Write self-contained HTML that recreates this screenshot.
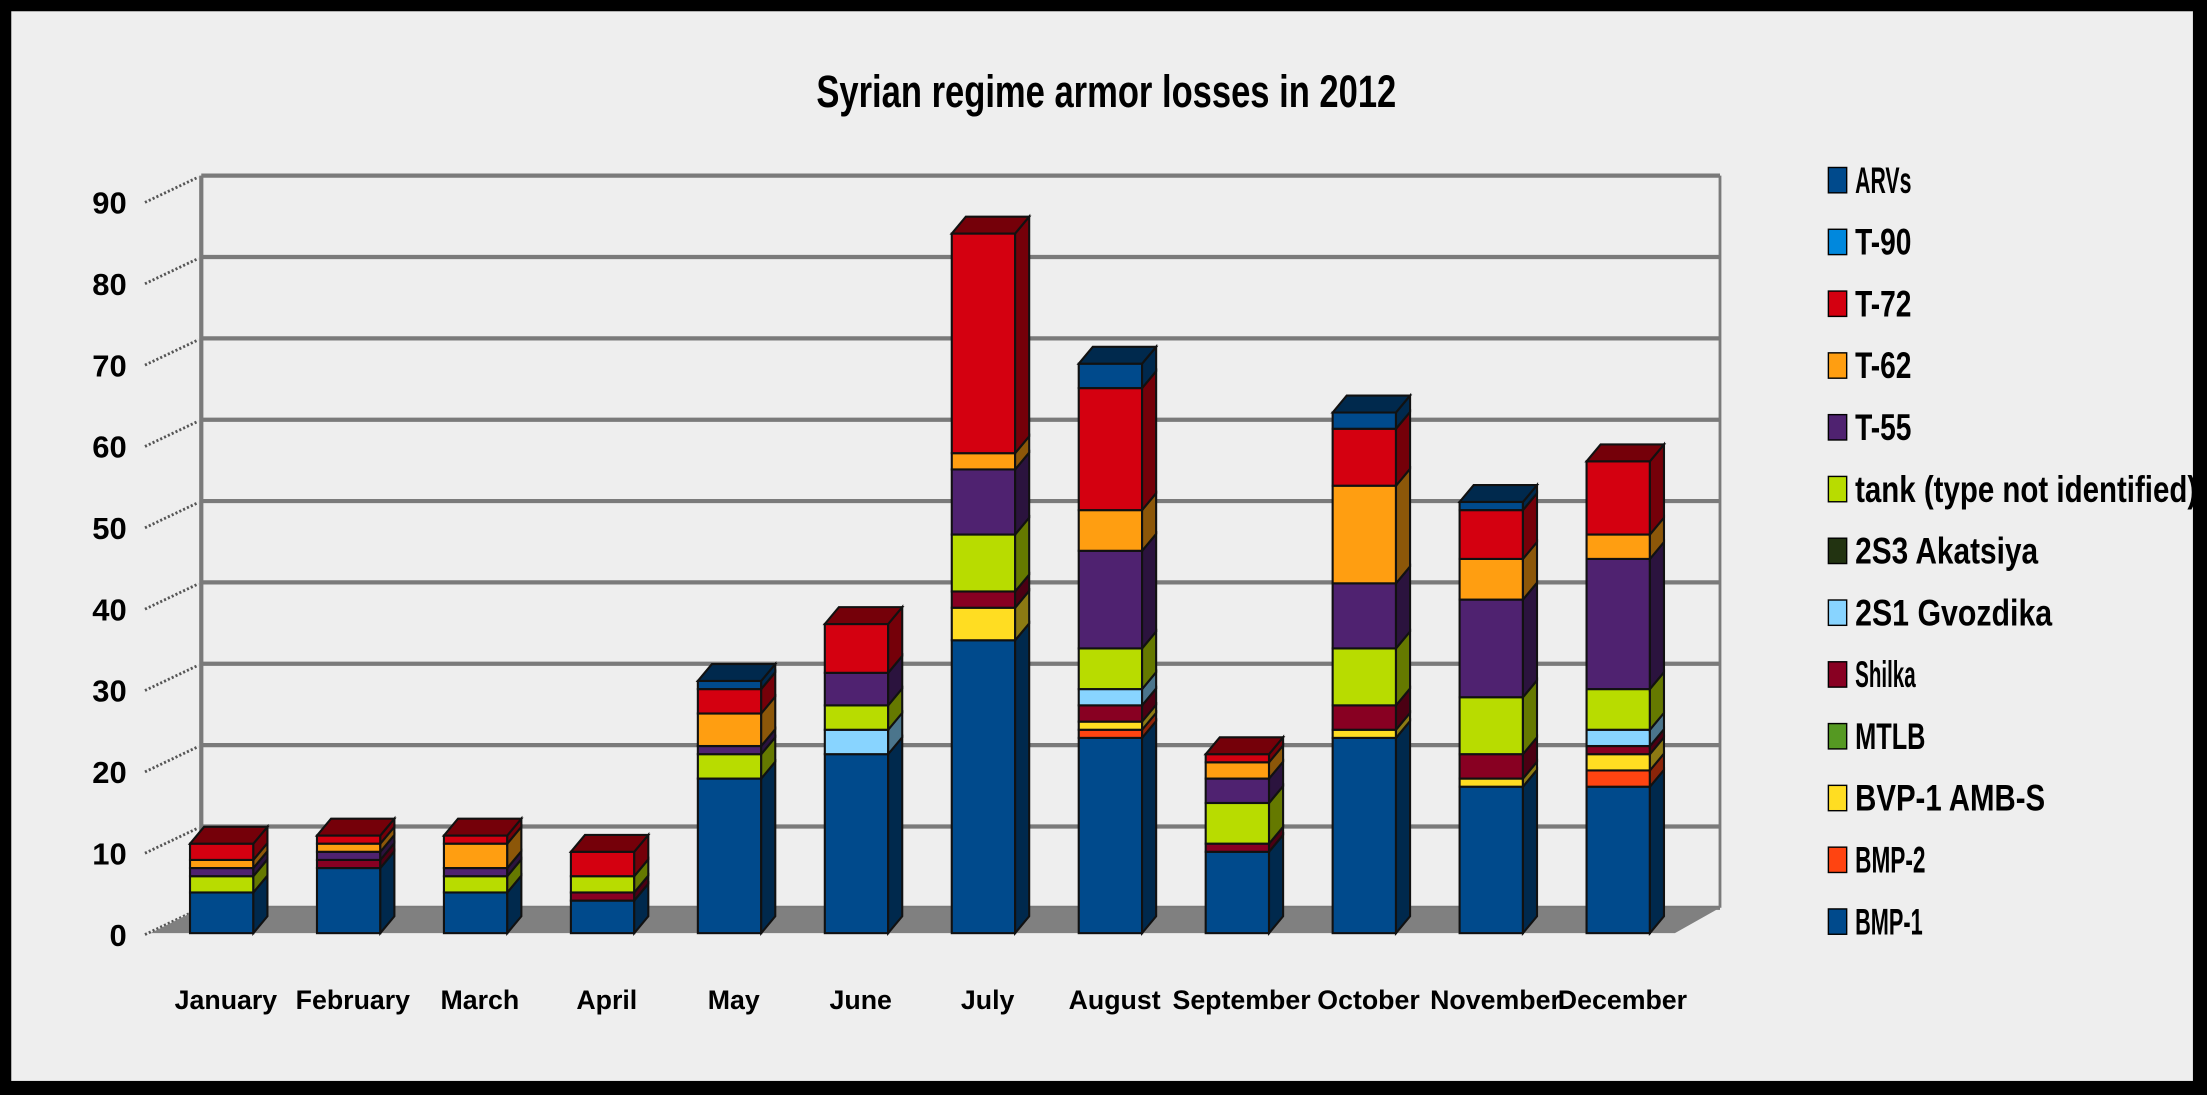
<!DOCTYPE html>
<html><head><meta charset="utf-8"><style>
html,body{margin:0;padding:0;background:#000;}
svg{display:block;}
text{font-family:"Liberation Sans Narrow","Liberation Sans",sans-serif;font-weight:bold;fill:#000;}
</style></head><body>
<svg id="chart" width="2207" height="1095" viewBox="0 0 1568 778" preserveAspectRatio="none" xmlns="http://www.w3.org/2000/svg">
<rect x="0" y="0" width="1568" height="778" fill="#000"/>
<rect x="8" y="8" width="1550" height="760" fill="#eeeeee"/>
<text x="786" y="76" font-size="32" text-anchor="middle" textLength="412" lengthAdjust="spacingAndGlyphs">Syrian regime armor losses in 2012</text>
<g id="grid"></g><g id="bars"></g><g id="legend"></g>
</svg>
<script>
const months = ["January","February","March","April","May","June","July","August","September","October","November","December"];
const seriesNames = ["BMP-1","BMP-2","BVP-1 AMB-S","MTLB","Shilka","2S1 Gvozdika","2S3 Akatsiya","tank (type not identified)","T-55","T-62","T-72","T-90","ARVs"];
const BMP1   = [5,8,5,4,19,22,36,24,10,24,18,18];
const BMP2   = [0,0,0,0,0,0,0,1,0,0,0,2];
const BVP1   = [0,0,0,0,0,0,4,1,0,1,1,2];
const MTLB   = [0,0,0,0,0,0,0,0,0,0,0,0];
const Shilka = [0,1,0,1,0,0,2,2,1,3,3,1];
const S2S1   = [0,0,0,0,0,3,0,2,0,0,0,2];
const S2S3   = [0,0,0,0,0,0,0,0,0,0,0,0];
const tank   = [2,0,2,2,3,3,7,5,5,7,7,5];
const T55    = [1,1,1,0,1,4,8,12,3,8,12,16];
const T62    = [1,1,3,0,4,0,2,5,2,12,5,3];
const T72    = [2,1,1,3,3,6,27,15,1,7,6,9];
const T90    = [0,0,0,0,0,0,0,0,0,0,0,0];
const ARVs   = [0,0,0,0,1,0,0,3,0,2,1,0];
const yTicks = [0,10,20,30,40,50,60,70,80,90];
const legendWidths = [48,50,135,50,43,140,130,243,40,40,40,40,40];
const allSeries = [BMP1,BMP2,BVP1,MTLB,Shilka,S2S1,S2S3,tank,T55,T62,T72,T90,ARVs];
const colors = ["#004a8c","#ff4411","#ffdd22","#559922","#880022","#88d4ff","#223311","#b8dc00","#4f2270","#ff9e11","#d40010","#0088dd","#004a8c"];

const NS="http://www.w3.org/2000/svg";
const baseY=663, unitPx=5.78, x0=135, step=90.2, bw=45, dx=10, dy=12;
function yScale(v){return baseY - v*unitPx;}
function xScale(i){return x0 + i*step;}
function mk(tag,attrs,parent){const e=document.createElementNS(NS,tag);for(const k in attrs)e.setAttribute(k,attrs[k]);parent.appendChild(e);return e;}
function shade(hex,f){const n=parseInt(hex.slice(1),16);const r=Math.round(((n>>16)&255)*f),g=Math.round(((n>>8)&255)*f),b=Math.round((n&255)*f);return "rgb("+r+","+g+","+b+")";}

const grid=document.getElementById('grid');
// back wall grid
const wallTop=yScale(90)-18;
yTicks.forEach(function(t){
  const gy=yScale(t)-18;
  const l=mk('line',{x1:143,y1:gy,x2:1222,y2:gy,stroke:'#7a7a7a','stroke-width':3},grid);
  
  
  const d=mk('line',{x1:103,y1:gy+19,x2:141,y2:gy+1,stroke:'#555','stroke-width':2,'stroke-dasharray':'1.5,1.5'},grid);
  
  
  const tx=mk('text',{x:90,y:yScale(t)+9,'font-size':22,'text-anchor':'end'},grid);
  tx.textContent=t;
  
  
});
const ax=mk('line',{x1:143,y1:wallTop,x2:143,y2:yScale(0)-18,stroke:'#7a7a7a','stroke-width':3},grid);


const rw=mk('line',{x1:1222,y1:wallTop,x2:1222,y2:yScale(0)-18,stroke:'#7a7a7a','stroke-width':2},grid);


const floor=mk('polygon',{points:'107,663 1190,663 1222,645 143,645',fill:'#808080'},grid);



const bars=document.getElementById('bars');
months.forEach(function(m,i){
  const x=xScale(i);
  let cum=0;
  const g=mk('g',{},bars);
  
  
  let lastColor=null;
  allSeries.forEach(function(s,k){
    const v=s[i]; if(!v) return;
    const y1=yScale(cum), y2=yScale(cum+v);
    const f=mk('rect',{x:x,y:y2,width:bw,height:y1-y2,fill:colors[k],stroke:'#111','stroke-width':1.5},g);
    
    
    const sd=mk('polygon',{points:[x+bw,y1,x+bw+dx,y1-dy,x+bw+dx,y2-dy,x+bw,y2].join(','),fill:shade(colors[k],0.55),stroke:'#111','stroke-width':1.5},g);
    
    
    cum+=v; lastColor=colors[k];
  });
  const yt=yScale(cum);
  const tp=mk('polygon',{points:[x,yt,x+dx,yt-dy,x+bw+dx,yt-dy,x+bw,yt].join(','),fill:shade(lastColor,0.55),stroke:'#111','stroke-width':1.5},g);
  
  
  const lb=mk('text',{x:x+bw/2+3,y:717,'font-size':19,'text-anchor':'middle'},bars);
  lb.textContent=m;
  
  
});

const legend=document.getElementById('legend');
for(let k=seriesNames.length-1;k>=0;k--){
  const idx=seriesNames.length-1-k;
  const ly=128+idx*43.9;
  const g=mk('g',{},legend);
  
  
  mk('rect',{x:1299,y:ly-9,width:13,height:18,fill:colors[k],stroke:'#000','stroke-width':1},g);
  const t=mk('text',{x:1318,y:ly+9,'font-size':26,textLength:legendWidths[k],lengthAdjust:'spacingAndGlyphs'},g);
  t.textContent=seriesNames[k];
}
</script>
</body></html>
